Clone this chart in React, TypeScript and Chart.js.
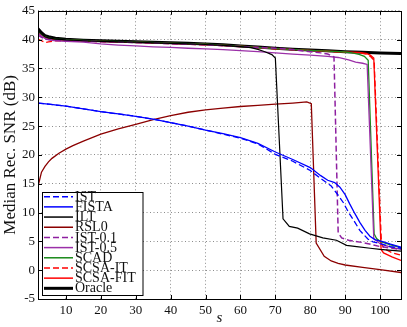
import React, { useEffect, useRef } from "react";
import { Chart, registerables } from "chart.js";
Chart.register(...registerables);

const xTicks = [10, 20, 30, 40, 50, 60, 70, 80, 90, 100];
const yTicks = [-5, 0, 5, 10, 15, 20, 25, 30, 35, 40, 45];

const istS = [2, 5, 10, 15, 20, 25, 30, 35, 40, 45, 50, 55, 60, 65, 70, 75, 80, 83, 86, 88, 89.5, 91, 92.5, 94.2, 96.5, 98, 100, 103, 106];
const istV = [29.0, 28.8, 28.45, 28.0, 27.5, 27.1, 26.7, 26.2, 25.6, 25.0, 24.3, 23.6, 22.9, 21.9, 20.1, 18.9, 17.3, 15.9, 14.6, 13.0, 11.7, 10.0, 8.6, 6.9, 5.4, 4.9, 4.6, 4.1, 3.8];

const fistaS = [2, 5, 10, 15, 20, 25, 30, 35, 40, 45, 50, 55, 60, 65, 70, 75, 80, 83, 85, 87, 88.5, 90, 91.3, 92.8, 94.2, 95.7, 97.1, 98.5, 100.5, 103, 106];
const fistaV = [29.0, 28.8, 28.45, 28.0, 27.5, 27.1, 26.7, 26.2, 25.6, 25.0, 24.3, 23.7, 23.0, 22.0, 20.5, 19.2, 17.8, 16.4, 15.6, 15.2, 14.4, 13.1, 11.5, 9.8, 8.3, 6.9, 5.9, 5.3, 5.0, 4.5, 4.0];

const iltS = [2, 3, 4, 5, 7, 10, 15, 20, 25, 30, 35, 40, 45, 50, 55, 60, 63, 65, 67, 69, 70, 72.2, 74, 76.4, 79.8, 83.6, 87.5, 90.4, 93.3, 97.2, 100, 106];
const iltV = [41.6, 41.0, 40.5, 40.3, 40.1, 39.95, 39.8, 39.7, 39.6, 39.55, 39.45, 39.35, 39.25, 39.15, 39.0, 38.8, 38.6, 38.3, 37.9, 37.4, 36.8, 8.9, 7.6, 7.3, 6.3, 5.6, 5.2, 4.3, 4.1, 3.8, 3.6, 3.3];

const rsl0S = [2, 3, 4, 5, 6, 8, 10, 12, 15, 20, 25, 30, 35, 40, 45, 50, 55, 60, 65, 70, 75, 79, 80.3, 81.7, 84, 86, 88, 90, 95, 100, 106];
const rsl0V = [14.5, 17.0, 18.0, 18.8, 19.4, 20.3, 21.0, 21.6, 22.4, 23.6, 24.5, 25.3, 26.1, 26.8, 27.4, 27.8, 28.1, 28.4, 28.6, 28.8, 29.0, 29.2, 28.9, 4.7, 2.4, 1.6, 1.2, 0.9, 0.5, 0.1, -0.4];

const ist01S = [2, 3, 4, 5, 7, 10, 15, 20, 30, 40, 50, 60, 70, 76, 80, 83, 85, 86.8, 88, 89, 91, 95, 100, 106];
const ist01V = [40.8, 40.4, 40.1, 40.0, 39.9, 39.85, 39.75, 39.65, 39.5, 39.3, 39.1, 38.8, 38.5, 38.2, 37.9, 37.7, 37.5, 37.0, 6.5, 5.6, 5.2, 4.8, 4.1, 3.6];

const ist05S = [2, 3, 4, 5, 7, 10, 15, 20, 25, 30, 35, 40, 45, 50, 55, 60, 65, 70, 75, 80, 85, 88, 91, 93, 95, 96.3, 98.2, 100, 103, 106];
const ist05V = [41.1, 40.6, 40.2, 40.0, 39.8, 39.7, 39.55, 39.25, 39.05, 38.9, 38.75, 38.65, 38.5, 38.4, 38.25, 38.1, 37.9, 37.7, 37.5, 37.3, 37.1, 36.9, 36.5, 36.1, 35.9, 35.7, 5.5, 4.6, 4.0, 3.6];

const scadS = [2, 3, 4, 5, 7, 10, 15, 20, 30, 40, 50, 60, 70, 80, 85, 90, 92, 94, 95.5, 96.6, 98.3, 99, 100, 103, 106];
const scadV = [41.5, 40.9, 40.5, 40.3, 40.1, 40.0, 39.85, 39.75, 39.6, 39.4, 39.2, 38.85, 38.45, 38.15, 38.0, 37.85, 37.7, 37.45, 37.1, 36.4, 6.3, 5.5, 5.0, 4.4, 3.9];

const scsaItS = [2, 3, 4, 5, 7, 10, 15, 20, 30, 40, 50, 60, 70, 80, 90, 94, 96, 97.2, 98.3, 100.4, 101.5, 103.5, 106];
const scsaItV = [40.1, 39.8, 39.5, 39.6, 39.8, 39.8, 39.75, 39.65, 39.5, 39.3, 39.1, 38.8, 38.4, 38.1, 37.8, 37.7, 37.5, 37.1, 36.4, 4.5, 3.6, 3.0, 2.6];

const scsaFitS = [2, 3, 4, 5, 7, 10, 15, 20, 30, 40, 50, 60, 70, 80, 90, 94, 96, 97.2, 98.2, 100.3, 101, 103.4, 106];
const scsaFitV = [41.3, 40.8, 40.4, 40.2, 40.0, 39.9, 39.8, 39.7, 39.55, 39.35, 39.15, 38.85, 38.45, 38.15, 37.85, 37.8, 37.6, 37.3, 36.8, 3.6, 3.0, 2.3, 1.7];

const oracleS = [2, 3, 4, 5, 7, 10, 15, 20, 25, 30, 35, 40, 45, 50, 55, 60, 65, 70, 75, 80, 85, 90, 95, 100, 106];
const oracleV = [41.9, 41.2, 40.7, 40.5, 40.25, 40.05, 39.9, 39.8, 39.7, 39.65, 39.55, 39.45, 39.35, 39.25, 39.1, 38.9, 38.7, 38.5, 38.35, 38.2, 38.05, 37.9, 37.8, 37.7, 37.6];

const labels = ["IST", "FISTA", "ILT", "RSL0", "IST-0.1", "IST-0.5", "SCAD", "SCSA-IT", "SCSA-FIT", "Oracle"];
const colors = ["#0000ff", "#0000ff", "#000000", "#8b0000", "#8e1fa0", "#9b30a8", "#1a8a1a", "#ff0000", "#ff0000", "#000000"];
const dashes: number[][] = [[6, 3], [], [], [], [6, 3], [], [], [6, 3], [], []];
const widths = [1.3, 1.3, 1.2, 1.3, 1.5, 1.3, 1.3, 1.3, 1.3, 3];
const seriesS = [istS, fistaS, iltS, rsl0S, ist01S, ist05S, scadS, scsaItS, scsaFitS, oracleS];
const seriesV = [istV, fistaV, iltV, rsl0V, ist01V, ist05V, scadV, scsaItV, scsaFitV, oracleV];

const FONT = "'Liberation Serif', 'Times New Roman', serif";

const framePlugin = {
  id: "frame",
  afterDraw(chart: any) {
    const { ctx, chartArea } = chart;
    const { left, right, top, bottom } = chartArea;
    const xs = chart.scales.x;
    const ys = chart.scales.y;
    ctx.save();
    ctx.strokeStyle = "#000";
    ctx.lineWidth = 1;
    ctx.beginPath();
    xTicks.forEach((v) => {
      const px = Math.round(xs.getPixelForValue(v)) + 0.5;
      ctx.moveTo(px, bottom);
      ctx.lineTo(px, bottom - 4);
      ctx.moveTo(px, top);
      ctx.lineTo(px, top + 4);
    });
    yTicks.forEach((v) => {
      const py = Math.round(ys.getPixelForValue(v)) + 0.5;
      ctx.moveTo(left, py);
      ctx.lineTo(left + 4, py);
      ctx.moveTo(right, py);
      ctx.lineTo(right - 4, py);
    });
    ctx.stroke();
    ctx.strokeRect(Math.round(left) + 0.5, Math.round(top) + 0.5, Math.round(right - left), Math.round(bottom - top));

    // legend
    const bx = 42.5, by = 192.5, bw = 100.5, bh = 103;
    ctx.fillStyle = "#fff";
    ctx.fillRect(bx, by, bw, bh);
    ctx.strokeStyle = "#000";
    ctx.lineWidth = 1;
    ctx.strokeRect(bx, by, bw, bh);
    ctx.font = "14px " + FONT;
    ctx.textBaseline = "middle";
    ctx.textAlign = "left";
    labels.forEach((lab, i) => {
      const cy = 196.7 + i * 10.18;
      ctx.beginPath();
      ctx.strokeStyle = colors[i];
      ctx.lineWidth = i === 9 ? 3 : 1.5;
      ctx.setLineDash(dashes[i]);
      ctx.moveTo(44, cy);
      ctx.lineTo(73, cy);
      ctx.stroke();
      ctx.setLineDash([]);
      ctx.fillStyle = "#111";
      ctx.fillText(lab, 75, cy + 0.5);
    });
    ctx.restore();
  },
};

export default function App() {
  const ref = useRef<HTMLCanvasElement>(null);
  useEffect(() => {
    document.body.style.margin = "0";
    const datasets = labels.map((lab, i) => ({
      label: lab,
      data: seriesS[i].map((s, j) => ({ x: s, y: seriesV[i][j] })),
      borderColor: colors[i],
      backgroundColor: colors[i],
      borderWidth: widths[i],
      borderDash: dashes[i],
      pointRadius: 0,
      fill: false,
      tension: 0,
      order: i === 9 ? 10 : 1,
    }));
    const chart = new Chart(ref.current as HTMLCanvasElement, {
      type: "line",
      data: { datasets },
      plugins: [framePlugin],
      options: {
        animation: false,
        responsive: false,
        devicePixelRatio: 1,
        layout: { padding: { top: 9, right: 6, left: 0, bottom: 0 } },
        plugins: { legend: { display: false }, tooltip: { enabled: false } },
        scales: {
          x: {
            type: "linear",
            min: 2,
            max: 106,
            afterBuildTicks: (s: any) => {
              s.ticks = xTicks.map((v) => ({ value: v }));
            },
            afterFit: (s: any) => {
              s.height = 28;
            },
            grid: { color: "rgba(0,0,0,0.45)", lineWidth: 1, drawTicks: false },
            border: { display: false, dash: [1, 2.5] },
            ticks: { padding: 4, color: "#111", font: { family: FONT, size: 13 }, maxRotation: 0 },
            title: {
              display: true,
              text: "s",
              color: "#111",
              font: { family: FONT, size: 15, style: "italic", lineHeight: 1 },
              padding: { top: 0, bottom: 1 },
            },
          },
          y: {
            type: "linear",
            min: -5,
            max: 45,
            afterBuildTicks: (s: any) => {
              s.ticks = yTicks.map((v) => ({ value: v }));
            },
            afterFit: (s: any) => {
              s.width = 38;
            },
            grid: { color: "rgba(0,0,0,0.45)", lineWidth: 1, drawTicks: false },
            border: { display: false, dash: [1, 2.5] },
            ticks: { padding: 3, color: "#111", font: { family: FONT, size: 13 } },
            title: {
              display: true,
              text: "Median Rec. SNR (dB)",
              color: "#111",
              font: { family: FONT, size: 17, lineHeight: 1 },
              padding: { top: 2, bottom: 0 },
            },
          },
        },
      } as any,
    });
    return () => chart.destroy();
  }, []);
  return (
    <div style={{ position: "absolute", left: 0, top: 0, width: 407, height: 327 }}>
      <canvas ref={ref} width={407} height={327} style={{ display: "block", width: 407, height: 327 }} />
    </div>
  );
}
